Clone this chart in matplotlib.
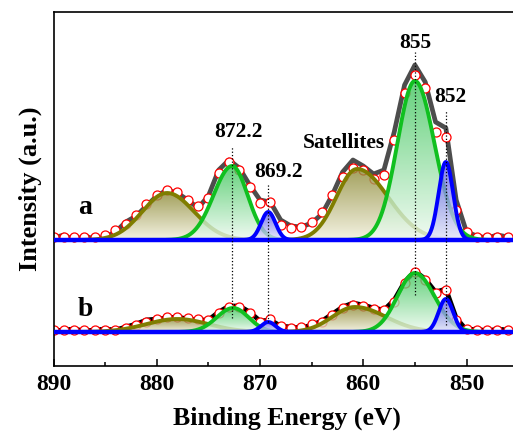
import numpy as np
import matplotlib
matplotlib.use('Agg')
import matplotlib.pyplot as plt
from matplotlib.patches import Polygon
from matplotlib.colors import LinearSegmentedColormap

plt.rcParams['font.family'] = ['Liberation Serif', 'DejaVu Serif']
plt.rcParams['font.weight'] = 'bold'

# energies of the read points (eV)
energy = np.arange(890, 845, -1)

# spectrum a: raw line and sampled points (height above its baseline)
a_raw = [2, 5, 0, 4, 1, 3, 8, 18, 24, 34, 44, 50, 47, 40, 32, 44, 70, 80, 72, 55,
         40, 38, 20, 14, 13, 17, 26, 45, 68, 80, 74, 66, 70, 108, 155, 175, 158, 118, 112, 40,
         8, 4, 2, 5, 3]
a_pts = [3, 3, 3, 3, 3, 5, 10, 16, 25, 36, 45, 50, 48, 40, 34, 42, 67, 78, 70, 53,
         37, 38, 15, 12, 13, 18, 28, 45, 63, 72, 70, 61, 65, 100, 147, 165, 152, 108, 103, 30,
         8, 3, 3, 3, 3]
# spectrum b
b_raw = [1, 2, 3, 1, 2, 3, 2, 5, 8, 12, 13, 14, 15, 13, 12, 12, 20, 26, 26, 20,
         11, 12, 6, 5, 4, 7, 11, 18, 25, 29, 27, 24, 22, 32, 50, 61, 53, 40, 43, 14,
         2, 3, 1, 3, 2]
b_pts = [2, 2, 2, 2, 2, 2, 2, 4, 7, 10, 13, 15, 15, 14, 13, 12, 19, 25, 25, 19,
         10, 13, 6, 4, 5, 8, 10, 17, 24, 27, 26, 23, 22, 30, 49, 60, 52, 39, 42, 12,
         3, 2, 2, 2, 2]

# fitted components: kind, centre, height, sigma (high-E side), sigma (low-E side)
kinds = ['sat', 'main', 'minor', 'sat', 'main', 'minor']
a_cen = [879.0, 872.7, 869.2, 860.6, 855.0, 852.0]
a_hgt = [47, 74, 28, 71, 159, 78]
a_sl = [2.4, 1.8, 0.7, 2.0, 1.7, 0.7]
a_sr = [2.6, 1.5, 0.7, 3.0, 1.9, 0.7]
b_cen = [878.0, 872.6, 869.2, 860.8, 855.0, 852.0]
b_hgt = [13, 24, 10, 25, 59, 33]
b_sl = [3.0, 1.6, 0.7, 2.2, 1.7, 0.7]
b_sr = [3.0, 1.5, 0.7, 3.0, 1.9, 0.7]

offset_a = 126
offset_b = 34

styles = {
    'sat': ('#7f7d00', '#8d8a36', '#f2f0dc', 1),
    'main': ('#10c020', '#3fc65c', '#eefaf0', 2),
    'minor': ('#0000ff', '#5c5ce8', '#e6e6fb', 3),
}

# peak labels: text, x, y
labels = ['855', '852', '872.2', '869.2', 'Satellites']
lab_x = [855.0, 851.6, 872.1, 868.2, 861.9]
lab_y = [323, 269, 234, 194, 223]
# guide lines: energy, bottom, top
guide_e = [872.7, 869.2, 855.0, 852.0]
guide_lo = [48, 44, 71, 41]
guide_hi = [219, 182, 314, 256]


def peak(x, c, h, sl, sr):
    s = np.where(x > c, sl, sr)
    return h * np.exp(-(x - c) ** 2 / (2 * s ** 2))


def grad_fill(ax, x, y, base, c_top, c_bot, z):
    m = y > 0.3
    x, y = x[m], y[m]
    verts = np.column_stack([np.r_[x, x[::-1]], np.r_[y + base, np.full_like(y, base)]])
    poly = Polygon(verts, closed=True, facecolor='none', edgecolor='none')
    ax.add_patch(poly)
    cmap = LinearSegmentedColormap.from_list('g', [c_bot, c_top])
    grad = np.linspace(0, 1, 256)[:, None]
    im = ax.imshow(grad, cmap=cmap, origin='lower', aspect='auto', alpha=0.8,
                   extent=[x.min(), x.max(), base, base + y.max()], zorder=z)
    im.set_clip_path(poly)


fig = plt.figure(figsize=(5.13, 4.38), dpi=100)
ax = fig.add_axes([53.5 / 513, 72 / 438, 466.5 / 513, 354 / 438])

xf = np.linspace(890, 845, 1200)

for raw, pts, off, lc, cen, hgt, sl, sr in [
        (a_raw, a_pts, offset_a, '#4d4d4d', a_cen, a_hgt, a_sl, a_sr),
        (b_raw, b_pts, offset_b, 'black', b_cen, b_hgt, b_sl, b_sr)]:
    ax.plot(energy, np.array(raw) + off, color=lc, lw=3.4, zorder=1,
            solid_joinstyle='round')
    ax.plot(energy, np.array(pts) + off, 'o', ms=6.5, mfc='white', mec='red',
            mew=0.9, zorder=2)
    for k, c, h, s1, s2 in zip(kinds, cen, hgt, sl, sr):
        lcol, ctop, cbot, lvl = styles[k]
        y = peak(xf, c, h, s1, s2)
        grad_fill(ax, xf, y, off, ctop, cbot, 2 + lvl * 2)
        ax.plot(xf, y + off, color=lcol, lw=2.8, zorder=3 + lvl * 2)
    ax.plot([890, 845], [off, off], color='#0000ff', lw=3.2, zorder=10,
            solid_capstyle='butt')

for e, lo, hi in zip(guide_e, guide_lo, guide_hi):
    ax.plot([e, e], [lo, hi], color='black', ls=':', lw=0.9, zorder=11)

for t, x, y in zip(labels, lab_x, lab_y):
    ax.text(x, y, t, ha='center', va='center', fontsize=15.5,
            fontweight='bold', zorder=12)

ax.text(886.9, 159, 'a', ha='center', va='center', fontsize=20, fontweight='bold')
ax.text(886.9, 56, 'b', ha='center', va='center', fontsize=20, fontweight='bold')

ax.set_xlim(890, 844.82)
ax.set_ylim(0, 354)
ax.set_xticks([890, 880, 870, 860, 850])
ax.set_xticks([885, 875, 865, 855], minor=True)
ax.set_yticks([])
ax.tick_params(axis='x', which='major', direction='in', length=5, width=1.1,
               labelsize=17, pad=6)
ax.tick_params(axis='x', which='minor', direction='in', length=3, width=1.1)
for lab in ax.get_xticklabels():
    lab.set_fontweight('bold')
for sp in ax.spines.values():
    sp.set_linewidth(1.2)
ax.spines['right'].set_visible(False)

ax.set_xlabel('Binding Energy (eV)', fontsize=18.5, fontweight='bold', labelpad=8)
ax.set_ylabel('Intensity (a.u.)', fontsize=19, fontweight='bold', labelpad=8)

fig.savefig('out.png', dpi=100)
